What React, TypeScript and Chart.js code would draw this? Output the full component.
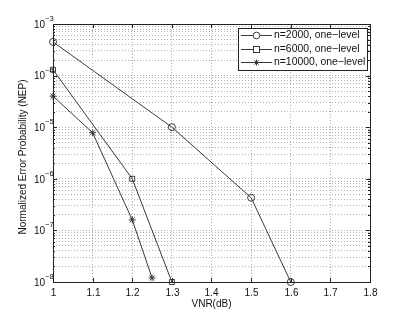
import React, { useEffect, useRef } from "react";
import { Chart, registerables } from "chart.js";
Chart.register(...registerables);

const xTicks = [1, 1.1, 1.2, 1.3, 1.4, 1.5, 1.6, 1.7, 1.8];
const yExponents = [-8, -7, -6, -5, -4, -3];

const seriesLabels = ["n=2000, one\u2212level", "n=6000, one\u2212level", "n=10000, one\u2212level"];
const x2000 = [1, 1.3, 1.5, 1.6];
const y2000 = [4.5e-4, 1e-5, 4.3e-7, 1e-8];
const x6000 = [1, 1.2, 1.3];
const y6000 = [1.3e-4, 1e-6, 1e-8];
const x10000 = [1, 1.1, 1.2, 1.25];
const y10000 = [4e-5, 7.8e-6, 1.6e-7, 1.2e-8];
const pointStyles = ["circle", "rect", "star"];

const FONT = "'Liberation Sans', Arial, sans-serif";
const LINE = "#3a3a3a";

const overlay = {
  id: "overlay",
  afterDraw(chart: any) {
    const { ctx, chartArea: a, scales } = chart;
    const xs = scales.x;
    const ys = scales.y;
    ctx.save();
    // frame
    ctx.strokeStyle = "#222";
    ctx.lineWidth = 1;
    ctx.setLineDash([]);
    ctx.strokeRect(Math.round(a.left) + 0.5, Math.round(a.top) + 0.5, Math.round(a.right - a.left), Math.round(a.bottom - a.top));
    // x ticks
    ctx.fillStyle = "#111";
    ctx.font = `10px ${FONT}`;
    ctx.textAlign = "center";
    ctx.textBaseline = "middle";
    xTicks.forEach((v) => {
      const px = Math.round(xs.getPixelForValue(v)) + 0.5;
      ctx.beginPath();
      ctx.moveTo(px, a.bottom);
      ctx.lineTo(px, a.bottom - 4);
      ctx.moveTo(px, a.top);
      ctx.lineTo(px, a.top + 4);
      ctx.stroke();
      ctx.fillText(String(v), px, a.bottom + 11);
    });
    // y ticks
    yExponents.forEach((e) => {
      for (let m = 1; m <= 9; m++) {
        if (e === -3 && m > 1) break;
        const py = Math.round(ys.getPixelForValue(m * Math.pow(10, e))) + 0.5;
        const len = m === 1 ? 4 : 2;
        ctx.beginPath();
        ctx.moveTo(a.left, py);
        ctx.lineTo(a.left + len, py);
        ctx.moveTo(a.right, py);
        ctx.lineTo(a.right - len, py);
        ctx.stroke();
      }
      const py = ys.getPixelForValue(Math.pow(10, e));
      ctx.font = `10px ${FONT}`;
      ctx.textAlign = "right";
      ctx.textBaseline = "middle";
      ctx.fillText("10", a.left - 8, py + 1);
      ctx.font = `7.5px ${FONT}`;
      ctx.textAlign = "left";
      ctx.fillText(String(e).replace("-", "\u2212"), a.left - 8, py - 5);
    });
    // axis titles
    ctx.font = `10px ${FONT}`;
    ctx.textAlign = "center";
    ctx.textBaseline = "middle";
    ctx.fillText("VNR(dB)", (a.left + a.right) / 2, a.bottom + 22);
    ctx.save();
    ctx.translate(23, 157);
    ctx.rotate(-Math.PI / 2);
    ctx.fillText("Normalized Error Probability (NEP)", 0, 0);
    ctx.restore();
    // legend
    const lx = 238, ly = 28, lw = 129, lh = 42;
    ctx.fillStyle = "#fff";
    ctx.fillRect(lx, ly, lw, lh);
    ctx.strokeStyle = "#222";
    ctx.strokeRect(lx + 0.5, ly + 0.5, lw, lh);
    const rows = [35, 49, 62];
    chart.data.datasets.forEach((ds: any, i: number) => {
      const ry = rows[i] + 0.5;
      ctx.strokeStyle = LINE;
      ctx.lineWidth = 1;
      ctx.beginPath();
      ctx.moveTo(241, ry);
      ctx.lineTo(272, ry);
      ctx.stroke();
      ctx.fillStyle = "#fff";
      if (pointStyles[i] === "circle") {
        ctx.beginPath();
        ctx.arc(256.5, ry, 3.3, 0, Math.PI * 2);
        ctx.fill();
        ctx.stroke();
      } else if (pointStyles[i] === "rect") {
        ctx.fillRect(253.5, ry - 3, 6, 6);
        ctx.strokeRect(253.5, ry - 3, 6, 6);
      } else {
        ctx.beginPath();
        for (let k = 0; k < 4; k++) {
          const ang = (k * Math.PI) / 4;
          ctx.moveTo(256.5 + 3 * Math.cos(ang), ry + 3 * Math.sin(ang));
          ctx.lineTo(256.5 - 3 * Math.cos(ang), ry - 3 * Math.sin(ang));
        }
        ctx.stroke();
      }
      ctx.fillStyle = "#111";
      ctx.font = `10.4px ${FONT}`;
      ctx.textAlign = "left";
      ctx.textBaseline = "middle";
      ctx.fillText(ds.label, 274, ry);
    });
    ctx.restore();
  },
};

export default function App() {
  const ref = useRef<HTMLCanvasElement>(null);
  useEffect(() => {
    document.body.style.margin = "0";
    const mk = (xv: number[], yv: number[]) => xv.map((x, i) => ({ x, y: yv[i] }));
    const chart = new Chart(ref.current as HTMLCanvasElement, {
      type: "line",
      data: {
        datasets: [
          { label: seriesLabels[0], data: mk(x2000, y2000), pointStyle: "circle", pointRadius: 3.5 },
          { label: seriesLabels[1], data: mk(x6000, y6000), pointStyle: "rect", pointRadius: 3.5 },
          { label: seriesLabels[2], data: mk(x10000, y10000), pointStyle: "star", pointRadius: 3.5 },
        ].map((d) => ({
          ...d,
          borderColor: LINE,
          borderWidth: 1,
          pointBorderColor: LINE,
          pointBackgroundColor: "rgba(255,255,255,0)",
          pointBorderWidth: 1,
          tension: 0,
          fill: false,
          clip: false as any,
        })),
      },
      options: {
        animation: false,
        responsive: false,
        layout: { padding: { left: 53, right: 39, top: 24, bottom: 36 } },
        plugins: { legend: { display: false }, tooltip: { enabled: false } },
        scales: {
          x: {
            type: "linear",
            min: 1,
            max: 1.8,
            afterBuildTicks: (s: any) => {
              s.ticks = xTicks.map((v) => ({ value: v }));
            },
            ticks: { display: false },
            grid: { color: "#b0b0b0", lineWidth: 1, drawTicks: false, tickLength: 0 },
            border: { display: false, dash: [1, 2] },
          },
          y: {
            type: "logarithmic",
            min: 1e-8,
            max: 1e-3,
            afterBuildTicks: (s: any) => {
              const t: any[] = [];
              yExponents.forEach((e) => {
                for (let m = 1; m <= 9; m++) {
                  if (e === -3 && m > 1) break;
                  t.push({ value: m * Math.pow(10, e) });
                }
              });
              s.ticks = t;
            },
            ticks: { display: false },
            grid: { color: "#b0b0b0", lineWidth: 1, drawTicks: false, tickLength: 0 },
            border: { display: false, dash: [1, 2] },
          },
        },
      },
      plugins: [overlay],
    });
    return () => chart.destroy();
  }, []);
  return (
    <div style={{ width: 409, height: 318 }}>
      <canvas ref={ref} width={409} height={318} />
    </div>
  );
}
